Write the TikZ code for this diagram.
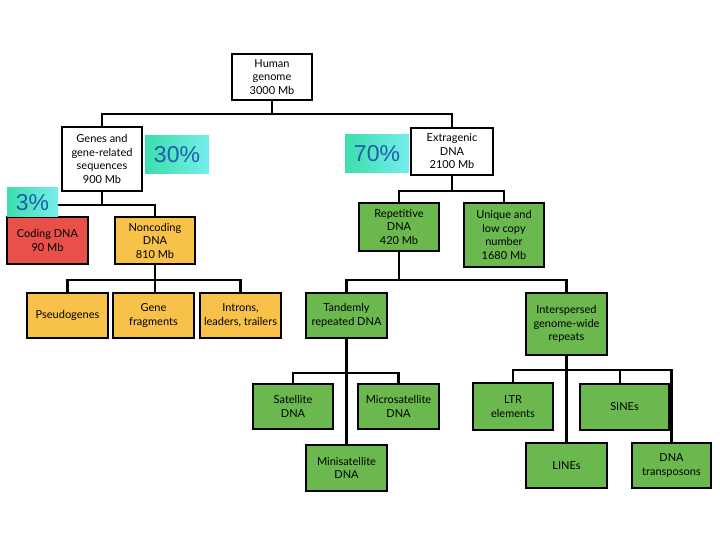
\documentclass[tikz,border=0pt]{standalone}
\usepackage{fontspec}
\setmainfont{Lato}
\newfontfamily\pctfont{Liberation Sans}
\usetikzlibrary{backgrounds}
\definecolor{redbox}{RGB}{232,80,74}
\definecolor{yelbox}{RGB}{248,194,74}
\definecolor{grnbox}{RGB}{106,184,78}
\definecolor{pcttext}{RGB}{30,95,168}
\definecolor{pctleft}{RGB}{60,222,172}
\definecolor{pctright}{RGB}{118,238,236}
\tikzset{
  bx/.style={draw=black, line width=2pt, align=center, inner sep=0pt,
    minimum width=80pt, font=\fontsize{11}{13.5}\selectfont},
  wbox/.style={bx, fill=white},
  rbox/.style={bx, fill=redbox},
  ybox/.style={bx, fill=yelbox},
  gbox/.style={bx, fill=grnbox},
  pct/.style={inner sep=0pt, left color=pctleft, right color=pctright,
    text=pcttext, font=\pctfont\fontsize{23}{23}\selectfont},
  conn/.style={line width=2.1pt, black}
}
\begin{document}
\begin{tikzpicture}[x=1pt,y=-1pt]
\useasboundingbox (0,0) rectangle (720,540);
% level 0-1
\node[wbox, minimum height=46pt] (human) at (272,77) {Human\\genome\\3000 Mb};
\node[wbox, minimum height=64pt] (genes) at (102,159) {Genes and\\gene-related\\sequences\\900 Mb};
\node[wbox, minimum height=47pt, minimum width=82pt] (extra) at (452,151.5) {Extragenic\\DNA\\2100 Mb};
% level 2
\node[rbox, minimum height=47pt, minimum width=81pt] (coding) at (47.5,240.5) {Coding DNA\\90 Mb};
\node[ybox, minimum height=47pt] (noncoding) at (155,240.5) {Noncoding\\DNA\\810 Mb};
\node[gbox, minimum height=48pt] (repet) at (399,227) {Repetitive\\DNA\\420 Mb};
\node[gbox, minimum height=64pt] (unique) at (504,235) {Unique and\\low copy\\number\\1680 Mb};
% level 3
\node[ybox, minimum height=45pt, minimum width=81pt] (pseudo) at (67.5,315.5) {Pseudogenes};
\node[ybox, minimum height=45pt, minimum width=81pt] (genefr) at (153.5,315.5) {Gene\\fragments};
\node[ybox, minimum height=45pt, minimum width=81pt] (introns) at (240.5,315.5) {Introns,\\leaders, trailers};
\node[gbox, minimum height=45pt, minimum width=81pt] (tandem) at (346.5,315.5) {Tandemly\\repeated DNA};
\node[gbox, minimum height=62pt, minimum width=81pt] (inter) at (566.5,324) {Interspersed\\genome-wide\\repeats};
% level 4
\node[gbox, minimum height=45pt] (satel) at (293,406.5) {Satellite\\DNA};
\node[gbox, minimum height=45pt, minimum width=81pt] (micro) at (398.5,406.5) {Microsatellite\\DNA};
\node[gbox, minimum height=46pt, minimum width=81pt] (mini) at (346.5,468) {Minisatellite\\DNA};
\node[gbox, minimum height=47pt] (ltr) at (513,406.5) {LTR\\elements};
\node[gbox, minimum height=46pt, minimum width=89pt] (sines) at (624.5,407) {SINEs};
\node[gbox, minimum height=45pt, minimum width=81pt] (lines) at (566.5,465.5) {LINEs};
\node[gbox, minimum height=45pt, minimum width=79pt] (dnatr) at (671.5,465.5) {DNA\\transposons};
% percentages
\node[pct, minimum width=64pt, minimum height=38pt] (p30) at (177,155) {30\%};
\node[pct, minimum width=64pt, minimum height=38pt] (p70) at (377,154) {70\%};
\node[pct, minimum width=51pt, minimum height=29pt] (p3) at (32.5,202.5) {3\%};
% connectors
\begin{scope}[on background layer]
\draw[conn] (human.south) -- ++(0,13) -| (genes.north);
\draw[conn] (human.south) -- ++(0,13) -| (extra.north);
\draw[conn] (genes.south) -- ++(0,13) -| (coding.north);
\draw[conn] (genes.south) -- ++(0,13) -| (noncoding.north);
\draw[conn] (extra.south) -- ++(0,15) -| (repet.north);
\draw[conn] (extra.south) -- ++(0,15) -| (unique.north);
\draw[conn] (noncoding.south) -- ++(0,15) -| (pseudo.north);
\draw[conn] (noncoding.south) -- (genefr.north -| noncoding.south);
\draw[conn] (noncoding.south) -- ++(0,15) -| (introns.north);
\draw[conn] (repet.south) -- ++(0,28) -| (tandem.north);
\draw[conn] (repet.south) -- ++(0,28) -| (inter.north);
\draw[conn] (tandem.south) -- ++(0,34) -| (satel.north);
\draw[conn] (tandem.south) -- ++(0,34) -| (micro.north);
\draw[conn] (tandem.south) -- (mini.north);
\draw[conn] (inter.south) -- ++(0,14) -| (ltr.north);
\draw[conn] (inter.south) -- ++(0,14) -| ([xshift=-4.5pt]sines.north);
\draw[conn] (inter.south) -- ++(0,14) -| (dnatr.north);
\draw[conn] (inter.south) -- (lines.north);
\end{scope}
\end{tikzpicture}
\end{document}
